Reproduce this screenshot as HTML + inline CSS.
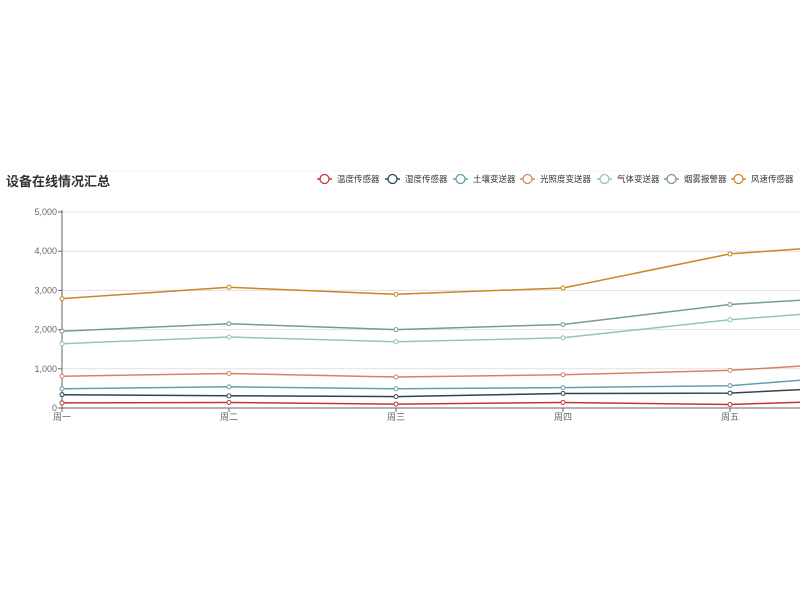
<!DOCTYPE html>
<html><head><meta charset="utf-8"><style>
body{margin:0;background:#fff;width:800px;height:600px;overflow:hidden;font-family:"Liberation Sans","Noto Sans CJK SC",sans-serif;}
</style></head><body>
<svg id="s" width="800" height="600" xmlns="http://www.w3.org/2000/svg" style="position:absolute;left:0;top:0">
<line x1="0" y1="171" x2="800" y2="171" stroke="#f4f4f4"/>
<text x="6" y="186" font-size="13" font-weight="bold" fill="#333" font-family="Liberation Sans,Noto Sans CJK SC,sans-serif">设备在线情况汇总</text>
</svg>
<script>
var s=document.getElementById('s'),NS='http://www.w3.org/2000/svg';
function el(t,a,txt){var e=document.createElementNS(NS,t);for(var k in a)e.setAttribute(k,a[k]);if(txt)e.textContent=txt;s.appendChild(e);return e;}
var x0=62,dx=167,y0=408,k=0.0392;
for(var i=1;i<=5;i++){var y=y0-i*1000*k;el('line',{x1:x0,y1:y,x2:800,y2:y,stroke:'#e0e0e0'});}
for(var i=0;i<=5;i++){var y=y0-i*1000*k;el('text',{x:57,y:y+3,'font-size':9,fill:'#666','text-anchor':'end'},i==0?'0':i+',000');el('line',{x1:58,y1:y,x2:62,y2:y,stroke:'#666'});}
el('line',{x1:62,y1:210,x2:62,y2:408,stroke:'#666'});
var S=[
['风速传感器','#ca8622',[2790,3080,2900,3060,3930,4240]],
['烟雾报警器','#749f83',[1960,2150,2000,2130,2640,2900]],
['气体变送器','#91c7ae',[1640,1810,1690,1790,2250,2580]],
['光照度变送器','#d48265',[810,880,790,850,960,1220]],
['土壤变送器','#61a0a8',[490,540,490,520,570,900]],
['湿度传感器','#2f4554',[340,310,290,370,380,590]],
['温度传感器','#c23531',[130,140,100,140,90,230]]];
S.forEach(function(r){var p=r[2].map(function(v,i){return (x0+i*dx)+','+(y0-v*k).toFixed(1)}).join(' ');
el('polyline',{points:p,fill:'none',stroke:r[1],'stroke-width':1.5});
r[2].forEach(function(v,i){if(i<5)el('circle',{cx:x0+i*dx,cy:y0-v*k,r:2,fill:'#fff',stroke:r[1],'stroke-width':1});});});
el('line',{x1:62,y1:408,x2:800,y2:408,stroke:'#666'});
['周一','周二','周三','周四','周五'].forEach(function(t,i){var x=x0+i*dx;el('line',{x1:x,y1:408,x2:x,y2:412,stroke:'#666'});el('text',{x:x,y:420,'font-size':9,fill:'#666','text-anchor':'middle'},t);});
var L=[['温度传感器','#c23531',317],['湿度传感器','#2f4554',385],['土壤变送器','#61a0a8',453],['光照度变送器','#d48265',520],['气体变送器','#91c7ae',597],['烟雾报警器','#749f83',664],['风速传感器','#ca8622',731]];
L.forEach(function(r){var x=r[2],y=179;el('line',{x1:x,y1:y,x2:x+15,y2:y,stroke:r[1],'stroke-width':1.5});el('circle',{cx:x+7.5,cy:y,r:4.5,fill:'#fff',stroke:r[1],'stroke-width':1.3});el('text',{x:x+20,y:y+3,'font-size':8.5,fill:'#333'},r[0]);});
</script>
</body></html>
